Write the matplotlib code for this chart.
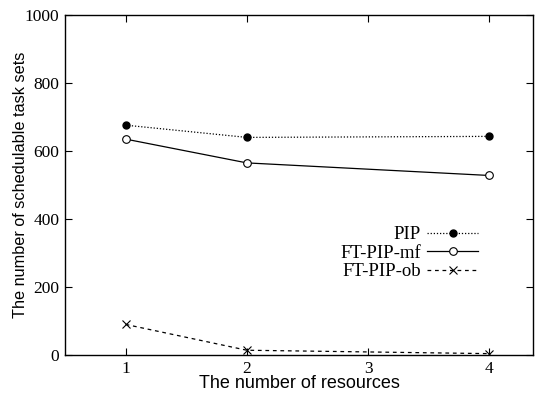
import matplotlib
matplotlib.use('Agg')
import matplotlib.pyplot as plt

resources = [1, 2, 4]
pip = [676, 640, 643]
ft_pip_mf = [635, 565, 528]
ft_pip_ob = [90, 14, 4]

x_ticks = [1, 2, 3, 4]
y_ticks = [0, 200, 400, 600, 800, 1000]

fig = plt.figure(figsize=(5.36, 3.93), dpi=100)
ax = fig.add_axes([65 / 536, 1 - 355 / 393, (533 - 65) / 536, (355 - 15) / 393])

ax.plot(resources, pip, linestyle=(0, (1, 1.5)), color='black', linewidth=0.9,
        marker='o', markersize=5, markerfacecolor='black', label='PIP')
ax.plot(resources, ft_pip_mf, linestyle='-', color='black', linewidth=0.9,
        marker='o', markersize=5.5, markerfacecolor='white', markeredgewidth=0.8,
        label='FT-PIP-mf')
ax.plot(resources, ft_pip_ob, linestyle=(0, (3, 3)), color='black', linewidth=0.9,
        marker='x', markersize=5.5, markeredgewidth=0.8, label='FT-PIP-ob')

ax.set_xlim(0.5, 4.36)
ax.set_ylim(0, 1000)
ax.set_xticks(x_ticks)
ax.set_yticks(y_ticks)
ax.tick_params(direction='in', length=5, width=0.8, top=True, right=True,
               labelsize=12.5, pad=4)
for lab in ax.get_xticklabels() + ax.get_yticklabels():
    lab.set_fontfamily('Liberation Serif')
for s in ax.spines.values():
    s.set_linewidth(1.0)

ax.set_xlabel('The number of resources', fontsize=13, family='Liberation Sans', labelpad=-1)
ax.set_ylabel('The number of schedulable task sets', fontsize=11.7,
              family='Liberation Sans', labelpad=-2.5)

ax.legend(loc='upper right', bbox_to_anchor=(478 / 536, 1 - 226 / 393),
          bbox_transform=fig.transFigure, frameon=False, markerfirst=False,
          prop={'family': 'Liberation Serif', 'size': 13.5}, handlelength=2.7,
          handletextpad=0.35, labelspacing=0.08, borderpad=0, borderaxespad=0)

fig.savefig('out.png', dpi=100)
